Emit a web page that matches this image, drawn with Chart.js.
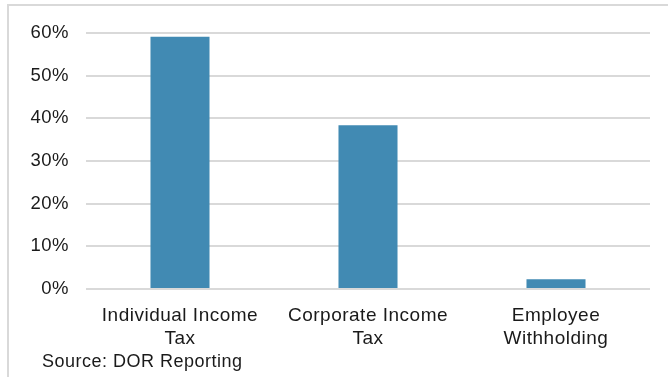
<!DOCTYPE html>
<html>
<head>
<meta charset="utf-8">
<script src="https://cdn.jsdelivr.net/npm/chart.js@4"></script>
<style>
  html, body { margin: 0; padding: 0; background: #fff; }
  #wrap { width: 668px; height: 377px; position: relative; }
</style>
</head>
<body>
<div id="wrap"><canvas id="chart_taxShare"></canvas></div>
<script>
var categories = [['Individual Income', 'Tax'], ['Corporate Income', 'Tax'], ['Employee', 'Withholding']];
var shares = [0.591, 0.384, 0.023];
var yTicks = [0, 0.1, 0.2, 0.3, 0.4, 0.5, 0.6];
var sourceNote = 'Source: DOR Reporting';

var FONT = '"Liberation Sans", Arial, sans-serif';

var chart_taxShare = new Chart(document.getElementById('chart_taxShare'), {
    type: 'bar',
    data: {
        labels: categories,
        datasets: [{
            label: 'Share',
            data: shares,
            backgroundColor: '#418ab3',
            borderWidth: 0,
            categoryPercentage: 1,
            barPercentage: 0.314
        }]
    },
    options: {
        animation: false,
        responsive: true,
        maintainAspectRatio: false,
        layout: { padding: { top: 33, right: 18, bottom: 0, left: 0 } },
        plugins: {
            legend: { display: false },
            tooltip: { enabled: false }
        },
        scales: {
            x: {
                grid: { display: false, drawTicks: false },
                border: { display: false },
                ticks: {
                    color: '#1a1a1a',
                    font: { family: FONT, size: 19, lineHeight: '23px' },
                    padding: 15,
                    maxRotation: 0,
                    autoSkip: false
                },
                afterFit: function(scale) { scale.height = 88; }
            },
            y: {
                min: 0,
                max: 0.6,
                afterBuildTicks: function(scale) {
                    scale.ticks = yTicks.map(function(v) { return { value: v }; });
                },
                grid: { color: '#d9d9d9', lineWidth: 2, drawTicks: false },
                border: { display: false },
                ticks: {
                    color: '#1a1a1a',
                    font: { family: FONT, size: 18.5 },
                    padding: 17,
                    callback: function(value) { return Math.round(value * 100) + '%'; }
                },
                afterFit: function(scale) { scale.width = 86; }
            }
        }
    },
    plugins: [{
        id: 'frameAndNote',
        beforeDraw: function(chart) {
            var ctx = chart.ctx;
            ctx.save();
            ctx.fillStyle = 'white';
            ctx.fillRect(0, 0, chart.width, chart.height);
            ctx.strokeStyle = '#d9d9d9';
            ctx.lineWidth = 2;
            ctx.beginPath();
            ctx.moveTo(8, chart.height);
            ctx.lineTo(8, 5);
            ctx.lineTo(chart.width, 5);
            ctx.stroke();
            ctx.restore();
            ctx.letterSpacing = '0.5px';
        },
        afterDraw: function(chart) {
            var ctx = chart.ctx;
            ctx.save();
            ctx.fillStyle = '#1a1a1a';
            ctx.font = '18px ' + FONT;
            ctx.textBaseline = 'middle';
            ctx.textAlign = 'left';
            ctx.fillText(sourceNote, 42, 362);
            ctx.restore();
        }
    }]
});
</script>
</body>
</html>
